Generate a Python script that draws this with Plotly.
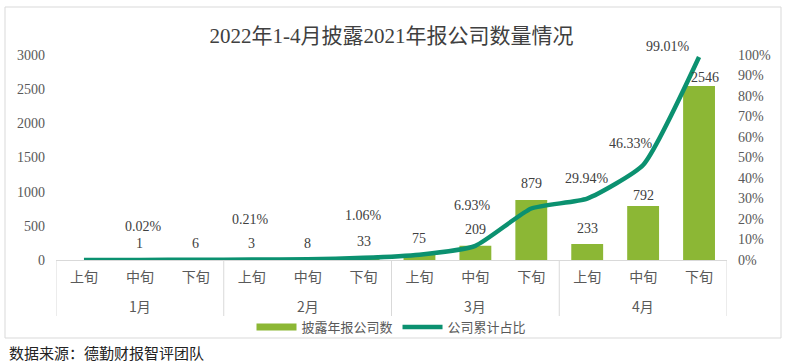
import plotly.graph_objects as go

months = ["1月", "2月", "3月", "4月"]
xun = ["上旬", "中旬", "下旬"] * 4
counts = [0, 1, 6, 3, 8, 33, 75, 209, 879, 233, 792, 2546]
cum_pct = [0.0, 0.02, 0.14, 0.21, 0.37, 1.06, 2.61, 6.93, 25.12, 29.94, 46.33, 99.01]
pct_labels = {1: "0.02%", 3: "0.21%", 5: "1.06%", 7: "6.93%", 9: "29.94%", 10: "46.33%", 11: "99.01%"}

BAR = "#8CB735"
LINE = "#0B9170"
TXT = "#404040"
GRID = "#d9d9d9"
NUMFONT = "Liberation Serif, Noto Sans CJK SC"
CJK = "Noto Sans CJK SC, Liberation Serif"

L, R, T, B = 56, 65, 55, 102
W, H = 792, 362
pw, ph = W - L - R, H - T - B

def px2x(px):
    return (px - L) / pw

def py2y(py):
    return (H - B - py) / ph

idx = list(range(len(xun)))
per = len(xun) // len(months)

fig = go.Figure()
fig.add_trace(go.Bar(
    x=idx, y=counts, name="披露年报公司数", showlegend=False,
    marker=dict(color=BAR, line=dict(width=0)), width=0.57,
))
# legend key for the bar series (wide bar-shaped key as in the reference)
fig.add_trace(go.Scatter(
    x=[0], y=[None], name="披露年报公司数", mode="lines",
    line=dict(color=BAR, width=7), hoverinfo="skip",
))
fig.add_trace(go.Scatter(
    x=idx, y=cum_pct, name="公司累计占比", yaxis="y2",
    mode="lines", line=dict(color=LINE, width=4.5, shape="spline", smoothing=0.5),
))

# bar value labels (skip zero)
bar_shift = {10: 10, 11: 9}
bar_xshift = {11: 6}
for i, v in enumerate(counts):
    if v == 0:
        continue
    fig.add_annotation(
        x=i, y=v, xref="x", yref="y", text=str(v), showarrow=False,
        yshift=bar_shift.get(i, 16), xshift=bar_xshift.get(i, 0),
        font=dict(family=NUMFONT, size=14, color=TXT),
    )

pct_shift = {1: 33, 3: 40, 5: 42, 7: 40, 9: 20, 10: 22, 11: 11}
pct_xshift = {1: 4, 3: -1, 5: 0, 7: -3, 9: 0, 10: -12, 11: -31}
for i, t in pct_labels.items():
    fig.add_annotation(
        x=i, y=cum_pct[i], xref="x", yref="y2", text=t, showarrow=False,
        yshift=pct_shift[i], xshift=pct_xshift[i],
        font=dict(family=NUMFONT, size=14, color=TXT),
    )

# month group labels and dividers
for g, m in enumerate(months):
    fig.add_annotation(
        x=g * per + (per - 1) / 2, y=py2y(306), xref="x", yref="paper",
        text=m, showarrow=False, yanchor="middle",
        font=dict(family=CJK, size=14, color="#595959"),
    )
for g in range(len(months) + 1):
    fig.add_shape(type="line", xref="x", yref="paper",
                  x0=g * per - 0.5, x1=g * per - 0.5, y0=0, y1=py2y(316),
                  line=dict(color=GRID, width=1))

# outer border
fig.add_shape(type="rect", xref="paper", yref="paper",
              x0=px2x(5), x1=px2x(781), y0=py2y(338), y1=py2y(7),
              line=dict(color=GRID, width=1), fillcolor="rgba(0,0,0,0)", layer="below")

fig.add_annotation(
    xref="paper", yref="paper", x=px2x(7), y=py2y(352), xanchor="left", yanchor="middle",
    text="数据来源：德勤财报智评团队", showarrow=False,
    font=dict(family=CJK, size=15, color="#222222"),
)

fig.update_layout(
    width=W, height=H,
    margin=dict(l=L, r=R, t=T, b=B),
    paper_bgcolor="white", plot_bgcolor="white",
    title=dict(text="2022年1-4月披露2021年报公司数量情况", x=0.5, xref="paper",
               y=1 - 36 / H, yref="container", yanchor="middle", xanchor="center",
               font=dict(family=NUMFONT, size=21, color=TXT)),
    showlegend=True,
    legend=dict(orientation="h", x=0.5, xref="paper", xanchor="center",
                y=py2y(327), yanchor="middle",
                font=dict(family=CJK, size=13, color="#595959"),
                itemwidth=40, bgcolor="rgba(0,0,0,0)"),
    xaxis=dict(range=[-0.5, len(xun) - 0.5], tickvals=idx, ticktext=xun,
               showline=True, linecolor=GRID, linewidth=1, zeroline=False,
               tickfont=dict(family=CJK, size=14, color="#595959"),
               ticks="", showgrid=False, ticklabelstandoff=4),
    yaxis=dict(range=[0, 3000], dtick=500, showgrid=False, zeroline=False,
               showline=False, ticks="", ticklabelstandoff=10,
               tickfont=dict(family=NUMFONT, size=14, color="#595959")),
    yaxis2=dict(range=[0, 100], dtick=10, overlaying="y", side="right",
                ticksuffix="%", showgrid=False, zeroline=False, showline=False,
                ticks="", ticklabelstandoff=10,
                tickfont=dict(family=NUMFONT, size=14, color="#595959")),
)

fig.write_html("out.html", post_script="document.body.style.margin='0';",
               config={"displayModeBar": False})
